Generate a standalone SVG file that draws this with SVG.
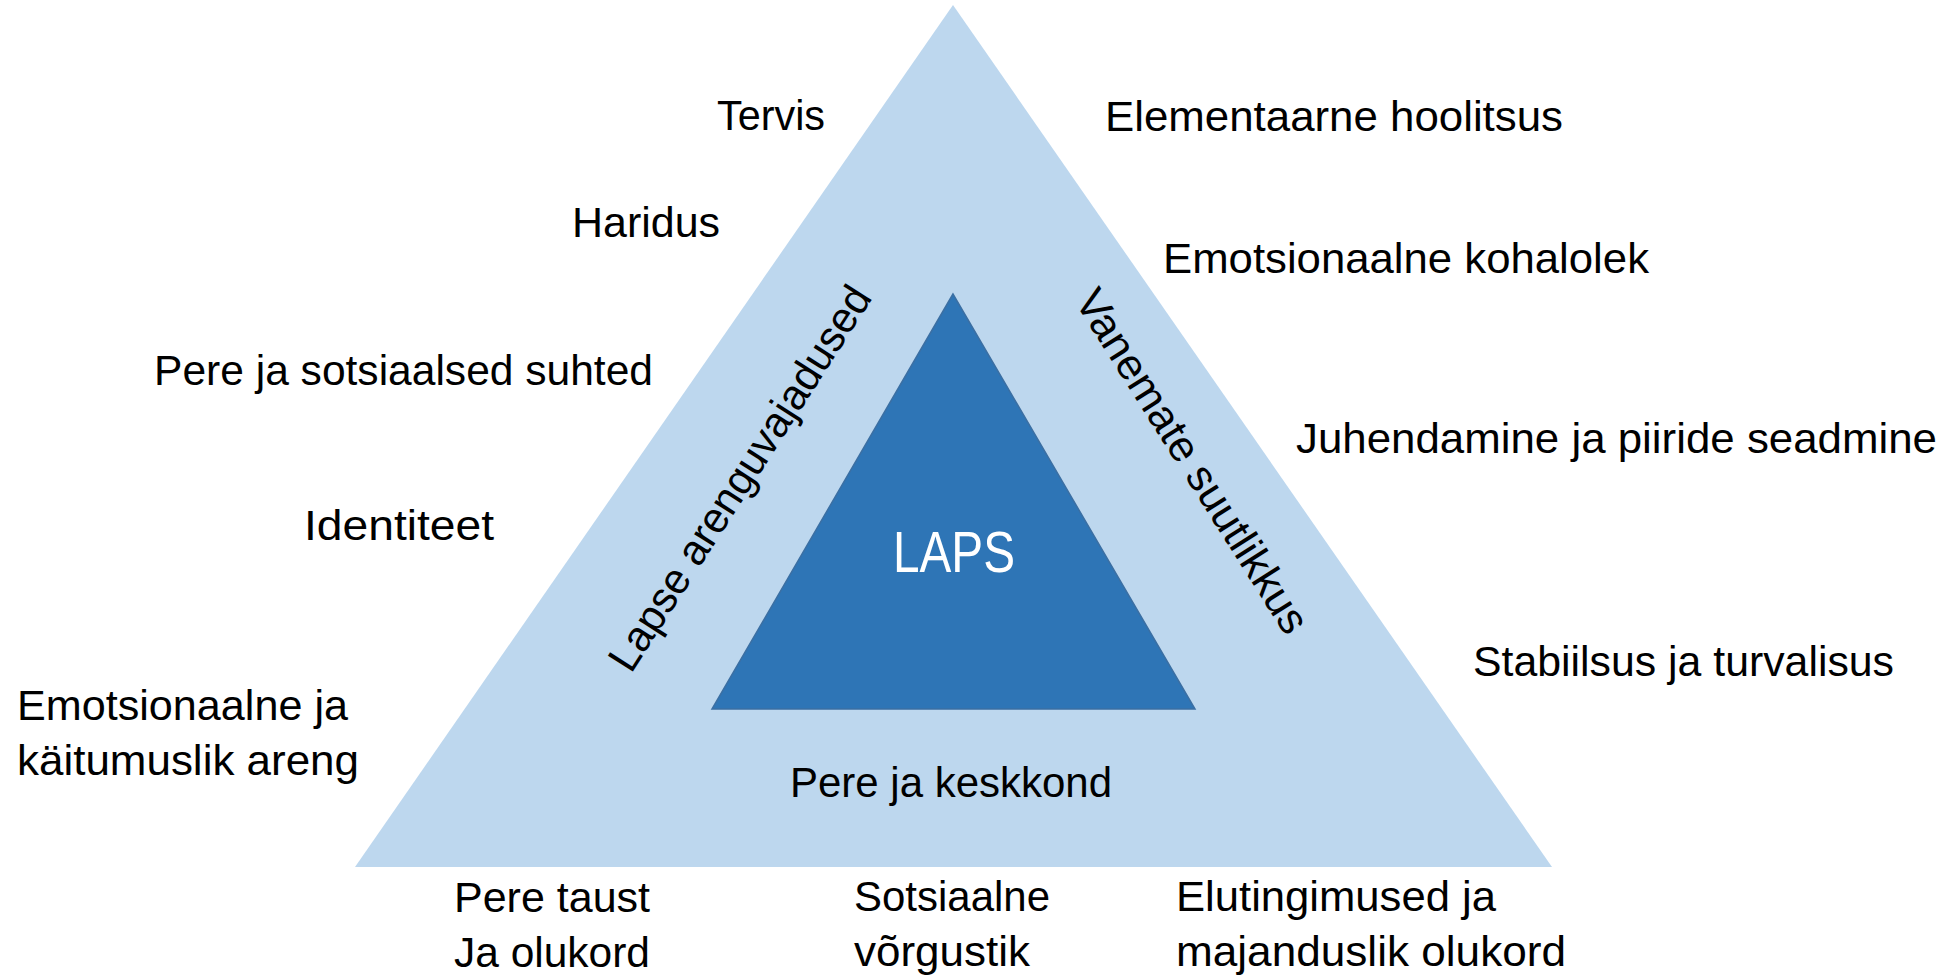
<svg xmlns="http://www.w3.org/2000/svg" width="1959" height="980" viewBox="0 0 1959 980">
<style>
  .t { font-family: "Liberation Sans", Arial, sans-serif; font-size: 43px; fill: #000000; }
  .laps { font-family: "Liberation Sans", Arial, sans-serif; font-size: 57px; fill: #FFFFFF; }
  .outer { fill: #BDD7EE; }
  .inner { fill: #2E75B6; stroke: #3B6FA3; stroke-width: 1.5; }
</style>
<rect width="1959" height="980" fill="#FFFFFF"/>
<g id="outer-triangle">
  <polygon class="outer" points="953,5 355,867 1552,867"/>
</g>
<g id="inner-triangle">
  <polygon class="inner" points="953,294 712,709 1195,709"/>
  <text class="laps" x="893" y="572" textLength="122" lengthAdjust="spacingAndGlyphs">LAPS</text>
</g>
<g id="side-labels">
  <text class="t" x="752" y="486" text-anchor="middle" transform="rotate(-57.3 752 486)" textLength="448" lengthAdjust="spacingAndGlyphs">Lapse arenguvajadused</text>
  <text class="t" x="1180" y="469" text-anchor="middle" transform="rotate(57.7 1180 469)" textLength="398" lengthAdjust="spacingAndGlyphs">Vanemate suutlikkus</text>
  <text class="t" x="790" y="797" textLength="322" lengthAdjust="spacingAndGlyphs">Pere ja keskkond</text>
</g>
<g id="left-labels">
  <text class="t" x="717" y="130" textLength="108" lengthAdjust="spacingAndGlyphs">Tervis</text>
  <text class="t" x="572" y="237" textLength="148" lengthAdjust="spacingAndGlyphs">Haridus</text>
  <text class="t" x="154" y="385" textLength="499" lengthAdjust="spacingAndGlyphs">Pere ja sotsiaalsed suhted</text>
  <text class="t" x="304" y="540" textLength="190" lengthAdjust="spacingAndGlyphs">Identiteet</text>
  <text class="t" x="17" y="720" textLength="331" lengthAdjust="spacingAndGlyphs">Emotsionaalne ja</text>
  <text class="t" x="17" y="775" textLength="342" lengthAdjust="spacingAndGlyphs">käitumuslik areng</text>
</g>
<g id="right-labels">
  <text class="t" x="1105" y="131" textLength="458" lengthAdjust="spacingAndGlyphs">Elementaarne hoolitsus</text>
  <text class="t" x="1163" y="273" textLength="486" lengthAdjust="spacingAndGlyphs">Emotsionaalne kohalolek</text>
  <text class="t" x="1296" y="453" textLength="641" lengthAdjust="spacingAndGlyphs">Juhendamine ja piiride seadmine</text>
  <text class="t" x="1473" y="676" textLength="421" lengthAdjust="spacingAndGlyphs">Stabiilsus ja turvalisus</text>
</g>
<g id="bottom-labels">
  <text class="t" x="454" y="912" textLength="196" lengthAdjust="spacingAndGlyphs">Pere taust</text>
  <text class="t" x="454" y="967" textLength="196" lengthAdjust="spacingAndGlyphs">Ja olukord</text>
  <text class="t" x="854" y="911" textLength="196" lengthAdjust="spacingAndGlyphs">Sotsiaalne</text>
  <text class="t" x="854" y="966" textLength="176" lengthAdjust="spacingAndGlyphs">võrgustik</text>
  <text class="t" x="1176" y="911" textLength="320" lengthAdjust="spacingAndGlyphs">Elutingimused ja</text>
  <text class="t" x="1176" y="966" textLength="390" lengthAdjust="spacingAndGlyphs">majanduslik olukord</text>
</g>
<g id="connectors"></g>
</svg>
